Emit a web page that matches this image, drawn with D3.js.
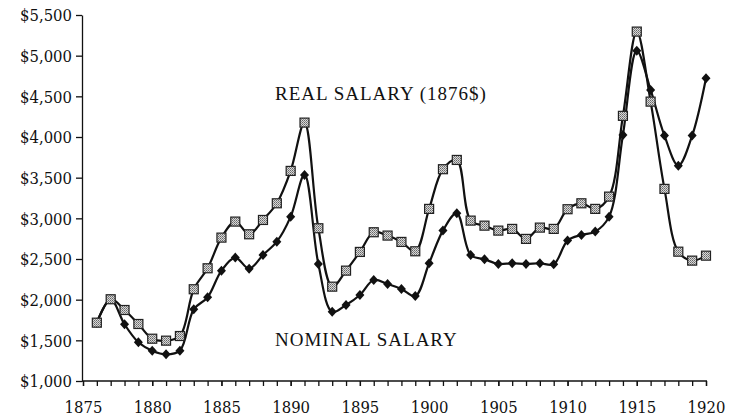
<!DOCTYPE html>
<html>
<head>
<meta charset="utf-8">
<script src="https://cdn.jsdelivr.net/npm/d3@7"></script>
<style>
  body { margin: 0; background: #fff; }
  .axis text { font-family: "DejaVu Serif Condensed", "DejaVu Serif", serif; font-stretch: condensed; font-size: 16.5px; fill: #111; }
  .axis path, .axis line { stroke: #111; stroke-width: 1.3; }
  .series-label { font-family: "Liberation Serif", serif; font-size: 19px; fill: #111; letter-spacing: 1px; }
</style>
</head>
<body>
<div id="chart"></div>
<script>
const years = d3.range(1876, 1921);

// real salary, 1876 dollars
const realSalary = [
    1717, 2005, 1873, 1701, 1520, 1496, 1553, 2128, 2386, 2763,
    2960, 2804, 2980, 3185, 3583, 4177, 2878, 2160, 2357, 2587,
    2829, 2788, 2710, 2595, 3116, 3604, 3718, 2972, 2910, 2849,
    2870, 2747, 2886, 2870, 3112, 3185, 3116, 3267, 4260, 5296,
    4435, 3362, 2590, 2480, 2541
];

const nominalSalary = [
    1717, 2005, 1697, 1476, 1373, 1328, 1373, 1882, 2029, 2357,
    2517, 2381, 2550, 2713, 3021, 3534, 2439, 1850, 1935, 2058,
    2242, 2193, 2132, 2045, 2448, 2849, 3063, 2550, 2497, 2439,
    2448, 2439, 2448, 2435, 2726, 2796, 2837, 3021, 4026, 5059,
    4579, 4017, 3648, 4017, 4723
];

const yTicks = [1000, 1500, 2000, 2500, 3000, 3500, 4000, 4500, 5000, 5500];
const xTicks = [1875, 1880, 1885, 1890, 1895, 1900, 1905, 1910, 1915, 1920];

const width = 730, height = 419;
const svg = d3.select("#chart").append("svg")
    .attr("width", width)
    .attr("height", height);

// grey speckled fill for the squares
const pat = svg.append("defs").append("pattern")
    .attr("id", "speckle")
    .attr("width", 2).attr("height", 2)
    .attr("patternUnits", "userSpaceOnUse");
pat.append("rect").attr("width", 2).attr("height", 2).attr("fill", "#d8d8d8");
pat.append("rect").attr("width", 1).attr("height", 1).attr("fill", "#666");
pat.append("rect").attr("x", 1).attr("y", 1).attr("width", 1).attr("height", 1).attr("fill", "#888");

const x = d3.scaleLinear().domain([1875, 1920]).range([83, 706]);
const y = d3.scaleLinear().domain([1000, 5500]).range([381, 15]);

const fmt = d => "$" + d3.format(",")(d);

svg.append("g")
    .attr("class", "axis")
    .attr("transform", "translate(82,0)")
    .call(d3.axisLeft(y).tickValues(yTicks).tickFormat(fmt).tickSize(6).tickSizeOuter(0))
    .call(g => g.selectAll("text").attr("dy", "0.36em").attr("x", -10));

svg.append("g")
    .attr("class", "axis")
    .attr("transform", "translate(0,381)")
    .call(d3.axisBottom(x).ticks(45).tickFormat("").tickSize(5).tickSizeOuter(0))
    .call(g => g.select(".domain").attr("d", "M82,0H707"));

svg.append("g")
    .attr("class", "axis")
    .attr("transform", "translate(0,381)")
    .call(d3.axisBottom(x).tickValues(xTicks).tickFormat(d3.format("d")).tickSize(5))
    .call(g => g.select(".domain").remove())
    .call(g => g.selectAll("text").attr("y", 20));

const line = d3.line()
    .x(d => x(d[0]))
    .y(d => y(d[1]))
    .curve(d3.curveCatmullRom.alpha(0.5));

const nominal = years.map((yr, i) => [yr, nominalSalary[i]]);
const real = years.map((yr, i) => [yr, realSalary[i]]);

[nominal, real].forEach(s => {
    svg.append("path")
        .datum(s)
        .attr("fill", "none")
        .attr("stroke", "#111")
        .attr("stroke-width", 2.2)
        .attr("d", line);
});

svg.selectAll(".diamond")
    .data(nominal)
    .enter()
    .append("path")
    .attr("class", "diamond")
    .attr("transform", d => `translate(${x(d[0])},${y(d[1])})`)
    .attr("d", "M0,-5L4.5,0L0,5L-4.5,0Z")
    .attr("fill", "#111");

svg.selectAll(".square")
    .data(real)
    .enter()
    .append("rect")
    .attr("class", "square")
    .attr("x", d => x(d[0]) - 4.5)
    .attr("y", d => y(d[1]) - 4.5)
    .attr("width", 9)
    .attr("height", 9)
    .attr("fill", "url(#speckle)")
    .attr("stroke", "#222")
    .attr("stroke-width", 1.2);

svg.append("text")
    .attr("class", "series-label")
    .attr("x", 275)
    .attr("y", 100)
    .text("REAL SALARY (1876$)");

svg.append("text")
    .attr("class", "series-label")
    .attr("x", 275)
    .attr("y", 346)
    .text("NOMINAL SALARY");
</script>
</body>
</html>
